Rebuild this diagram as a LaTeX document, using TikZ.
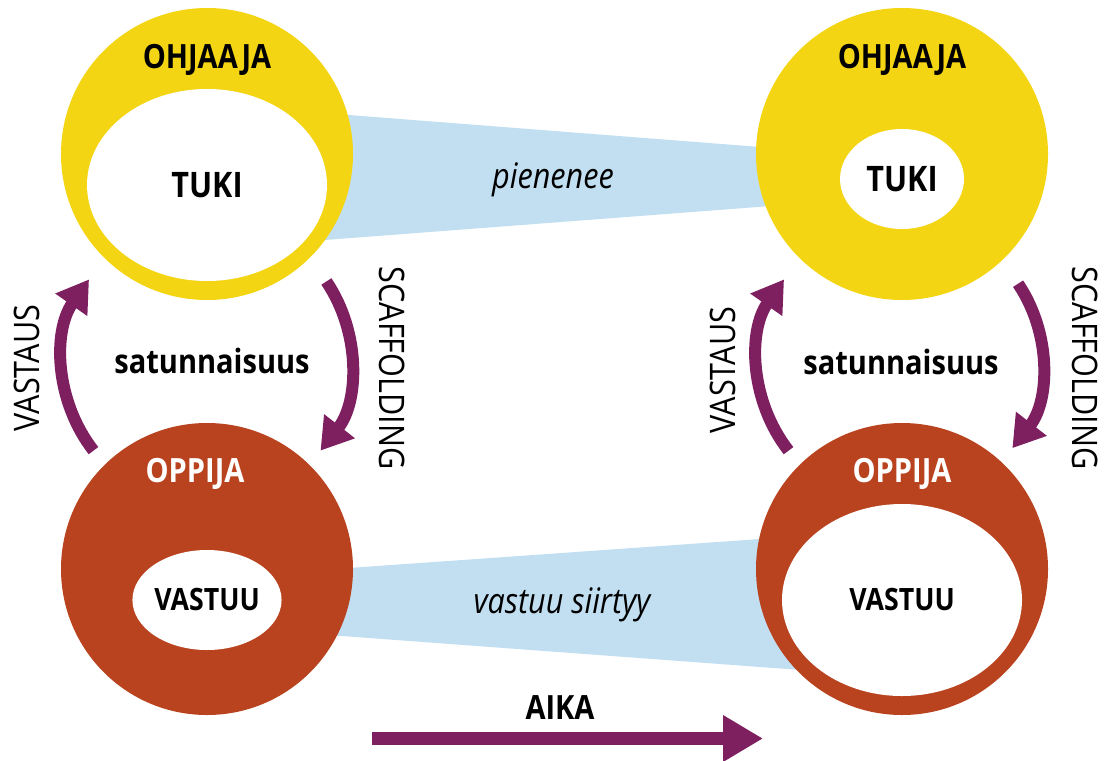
\documentclass[tikz,border=0pt]{standalone}
\usepackage{fontspec}
\setmainfont{Open Sans}[FakeStretch=0.87]
\usetikzlibrary{arrows.meta,shapes.geometric}
\definecolor{keltainen}{RGB}{243,213,19}
\definecolor{ruskea}{RGB}{185,67,31}
\definecolor{violetti}{RGB}{126,32,96}
\definecolor{sininen}{RGB}{194,223,242}

\begin{document}
\begin{tikzpicture}[
  rengas/.style={circle,minimum size=5.84cm,inner sep=0pt},
  isosisa/.style={ellipse,fill=white,minimum width=4.8cm,minimum height=3.84cm,inner sep=0pt},
  pienisisa/.style={ellipse,fill=white,minimum width=2.48cm,minimum height=2cm,inner sep=0pt},
  lihava/.style={font=\fontsize{20}{24}\selectfont\bfseries},
  otsikko/.style={font=\fontsize{19}{23}\selectfont\bfseries},
  pieni/.style={font=\fontsize{17.5}{21}\selectfont\bfseries},
  ohut/.style={font=\fontsize{20}{24}\selectfont},
  kursiivi/.style={font=\fontsize{20}{24}\selectfont\itshape},
  kaari/.style={draw=violetti,line width=0.24cm,-{Triangle[width=0.74cm,length=0.62cm]}},
  aikanuoli/.style={draw=violetti,line width=0.26cm,-{Triangle[width=0.88cm,length=0.8cm]}}
]
\useasboundingbox (0,0) rectangle (22.18,15.2);
% kaistat
\fill[sininen] (4.14,13.12)--(18.04,12.04)--(18.04,11.28)--(4.14,10.22)--cycle;
\fill[sininen] (4.14,3.64)--(18.04,4.62)--(18.04,1.65)--(4.14,2.68)--cycle;
% ympyrat
\node[rengas,fill=keltainen] (ohjL) at (4.14,12.12) {};
\node[rengas,fill=keltainen] (ohjR) at (18.04,12.12) {};
\node[rengas,fill=ruskea] (oppL) at (4.14,3.82) {};
\node[rengas,fill=ruskea] (oppR) at (18.04,3.82) {};
\node[isosisa,lihava] (tukiL) at (4.14,11.5) {TUKI};
\node[pienisisa,lihava] (tukiR) at (18.04,11.62) {TUKI};
\node[pienisisa,pieni] (vastuuL) at (4.14,3.2) {VASTUU};
\node[isosisa,pieni] (vastuuR) at (18.04,3.2) {VASTUU};
\node[otsikko] (ohjLt) at (4.14,14.0) {OHJAAJA};
\node[otsikko] (ohjRt) at (18.04,14.0) {OHJAAJA};
\node[otsikko,white] (oppLt) at (3.9,5.72) {OPPIJA};
\node[otsikko,white] (oppRt) at (18.04,5.72) {OPPIJA};
\node[kursiivi] (pien) at (11.06,11.6) {pienenee};
\node[kursiivi] (siirt) at (11.24,3.1) {vastuu siirtyy};
% kierto
\coordinate (kiertoL) at (4.14,7.96);
\coordinate (kiertoR) at (18.04,7.96);
\node[otsikko] (satL) at (4.24,7.98) {satunnaisuus};
\node[otsikko] (satR) at (18.02,7.96) {satunnaisuus};
\draw[kaari] ([shift={(218:2.88)}]kiertoL) arc[start angle=218,end angle=145,radius=2.88];
\draw[kaari] ([shift={(34:2.88)}]kiertoL) arc[start angle=34,end angle=-38,radius=2.88];
\draw[kaari] ([shift={(218:2.88)}]kiertoR) arc[start angle=218,end angle=145,radius=2.88];
\draw[kaari] ([shift={(34:2.8)}]kiertoR) arc[start angle=34,end angle=-38,radius=2.8];
\node[ohut,rotate=90] (vastL) at (0.54,7.84) {VASTAUS};
\node[ohut,rotate=-90] (scafL) at (7.84,7.84) {SCAFFOLDING};
\node[ohut,rotate=90] (vastR) at (14.46,7.8) {VASTAUS};
\node[ohut,rotate=-90] (scafR) at (21.7,7.84) {SCAFFOLDING};
% aika
\coordinate (aikaA) at (7.44,0.43);
\coordinate (aikaB) at (15.26,0.43);
\draw[aikanuoli] (aikaA) -- (aikaB);
\node[otsikko] (aika) at (11.2,1.04) {AIKA};
\end{tikzpicture}
\end{document}
